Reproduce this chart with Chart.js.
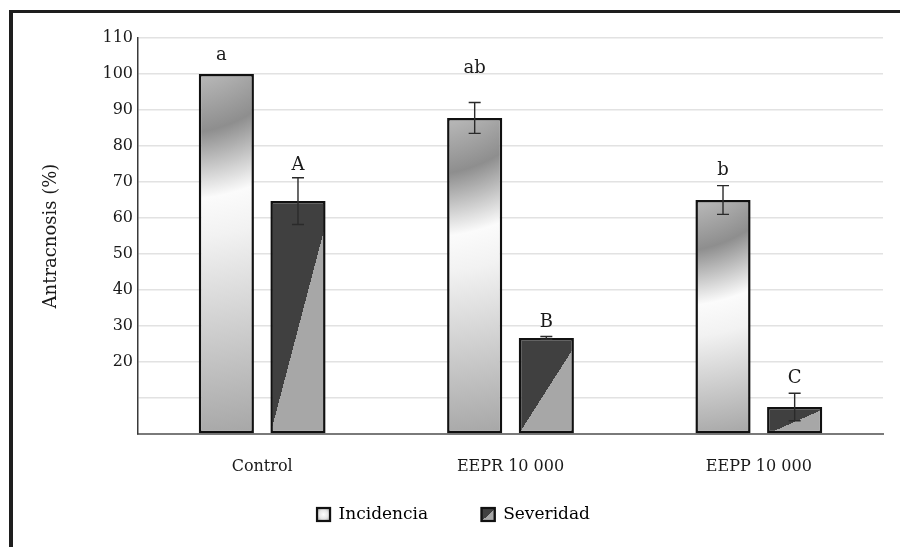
<!DOCTYPE html>
<html>
<head>
<meta charset="utf-8">
<script src="https://cdn.jsdelivr.net/npm/chart.js@4/dist/chart.umd.min.js"></script>
<style>
  html, body { margin: 0; padding: 0; background: #ffffff; }
  #wrap { position: relative; width: 900px; height: 547px; overflow: hidden; background: #fff; }
  #frame { position: absolute; left: 9px; top: 10px; width: 1000px; height: 1000px;
           border-top: 3px solid #1e1e1e; border-left: 4px solid #1e1e1e; pointer-events: none; }
  canvas { position: absolute; left: 0; top: 0; }
</style>
</head>
<body>
<div id="wrap">
  <canvas id="c" width="900" height="547"></canvas>
  <div id="frame"></div>
</div>
<script>
// ---- data ----
const categories = ['Control', 'EEPR 10 000', 'EEPP 10 000'];
const seriesNames = ['Incidencia', 'Severidad'];
const incidencia = [100, 87.8, 65];
const severidad = [64.7, 26.7, 7.5];
const incidenciaErr = [0, 4.3, 4.0];
const severidadErr = [6.5, 0.4, 3.8];
const incidenciaLetters = ['a', 'ab', 'b'];
const severidadLetters = ['A', 'B', 'C'];
const incidenciaLetterY = [105.3, 101.7, 73.3];
const severidadLetterY = [74.7, 31.1, 15.6];
const yTickValues = [20, 30, 40, 50, 60, 70, 80, 90, 100, 110];

const CAT_PCT = 0.577;
const BAR_PCT = 0.77;
const FONT = "'DejaVu Serif', 'Liberation Serif', serif";

function barGeom(ctx) {
  const chart = ctx.chart;
  const xs = chart.scales.x, ys = chart.scales.y;
  const i = ctx.dataIndex, di = ctx.datasetIndex;
  const catW = xs.width / categories.length;
  const slot = catW * CAT_PCT / 2;
  const bw = slot * BAR_PCT;
  const cx = xs.getPixelForValue(i) + (di === 0 ? -slot / 2 : slot / 2);
  const v = ctx.parsed ? ctx.parsed.y : ctx.raw;
  const top = ys.getPixelForValue(v), base = ys.getPixelForValue(0);
  return { cx, top, base, bw, left: cx - bw / 2, right: cx + bw / 2, h: base - top };
}

function incidGradient(c, cx, top, h) {
  const ox = cx - 50, oy = top - 86;
  const g1 = 0.5 + 0.5 * (h / 360);
  const Rend = Math.hypot(50, 86 + h) + 4;
  const g = c.createRadialGradient(ox, oy, 0, ox, oy, Rend);
  const st = (r, col) => g.addColorStop(Math.min(Math.max(r / Rend, 0), 1), col);
  st(0, '#c4c4c4');
  st(96, '#b4b4b4');
  st(100 + 46 * g1, '#8e8e8e');
  st(100 + 112 * g1, '#fbfbfb');
  st(100 + 150 * g1, '#f2f2f2');
  st(Rend, '#a6a6a6');
  return g;
}

function sevGradient(c, left, right, top, base, h) {
  const tY = top + 0.1 * h;
  const mx = (left + right) / 2, my = (base + tY) / 2;
  let nx = base - tY, ny = right - left;
  const len = Math.hypot(nx, ny) || 1;
  nx /= len; ny /= len;
  const k = 40;
  const g = c.createLinearGradient(mx - nx * k, my - ny * k, mx + nx * k, my + ny * k);
  g.addColorStop(0, '#404040');
  g.addColorStop(0.5, '#404040');
  g.addColorStop(0.5, '#a7a7a7');
  g.addColorStop(1, '#a7a7a7');
  return g;
}

function incidFill(ctx) {
  if (ctx.type !== 'data' || !ctx.chart.chartArea) return '#dcdcdc';
  const g = barGeom(ctx);
  return incidGradient(ctx.chart.ctx, g.cx, g.top, g.h);
}
function sevFill(ctx) {
  if (ctx.type !== 'data' || !ctx.chart.chartArea) return '#444444';
  const g = barGeom(ctx);
  return sevGradient(ctx.chart.ctx, g.left, g.right, g.top, g.base, g.h);
}

const errors = [incidenciaErr, severidadErr];
const letters = [incidenciaLetters, severidadLetters];
const letterY = [incidenciaLetterY, severidadLetterY];

const annotPlugin = {
  id: 'annot',
  afterDatasetsDraw(chart) {
    const c = chart.ctx, ys = chart.scales.y;
    c.save();
    chart.data.datasets.forEach((ds, di) => {
      const meta = chart.getDatasetMeta(di);
      meta.data.forEach((el, i) => {
        const v = ds.data[i], e = errors[di][i];
        if (e > 0) {
          const yt = ys.getPixelForValue(v + e), yb = ys.getPixelForValue(v - e);
          c.strokeStyle = '#2a2a2a';
          c.lineWidth = 1.4;
          c.beginPath();
          c.moveTo(el.x, yt); c.lineTo(el.x, yb);
          c.moveTo(el.x - 6, yt); c.lineTo(el.x + 6, yt);
          c.moveTo(el.x - 6, yb); c.lineTo(el.x + 6, yb);
          c.stroke();
        }
        c.fillStyle = '#1a1a1a';
        c.font = '18px ' + FONT;
        c.textAlign = 'center';
        c.textBaseline = 'middle';
        c.fillText(letters[di][i], el.x - (di === 0 && i === 0 ? 5 : 0), ys.getPixelForValue(letterY[di][i]));
      });
    });
    c.restore();
  },
  afterDraw(chart) {
    const lg = chart.legend;
    if (!lg || !lg.legendHitBoxes) return;
    const c = chart.ctx;
    const bw = 13, bh = 13, fs = 17;
    lg.legendHitBoxes.forEach((hb, i) => {
      const item = lg.legendItems[i];
      if (!item || !item.text) return;
      const x = hb.left, y = hb.top + Math.max((fs - bh) / 2, 0);
      c.save();
      if (item.datasetIndex === 0) {
        const g = c.createRadialGradient(x + bw / 2, y + bh / 2, 0, x + bw / 2, y + bh / 2, bw * 0.7);
        g.addColorStop(0, '#ffffff');
        g.addColorStop(0.5, '#e6e6e6');
        g.addColorStop(1, '#9a9a9a');
        c.fillStyle = g;
      } else {
        c.fillStyle = sevGradient(c, x, x + bw, y, y + bh, bh);
      }
      c.fillRect(x, y, bw, bh);
      c.strokeStyle = '#111';
      c.lineWidth = 2.2;
      c.strokeRect(x, y, bw, bh);
      c.restore();
    });
  }
};

new Chart(document.getElementById('c'), {
  type: 'bar',
  data: {
    labels: categories,
    datasets: [
      { label: seriesNames[0], data: incidencia, backgroundColor: incidFill,
        borderColor: '#111111', borderWidth: 2.5, borderSkipped: false,
        categoryPercentage: CAT_PCT, barPercentage: BAR_PCT },
      { label: seriesNames[1], data: severidad, backgroundColor: sevFill,
        borderColor: '#111111', borderWidth: 2.5, borderSkipped: false,
        categoryPercentage: CAT_PCT, barPercentage: BAR_PCT }
    ]
  },
  options: {
    responsive: false,
    animation: false,
    events: [],
    layout: { padding: { left: 24, right: 17, top: 38, bottom: 14 } },
    plugins: {
      tooltip: { enabled: false },
      legend: {
        position: 'bottom',
        labels: {
          boxWidth: 13, boxHeight: 13, padding: 16,
          color: '#1a1a1a',
          font: { family: FONT, size: 17 },
          generateLabels: (chart) => {
            const ds = chart.data.datasets;
            return [
              { text: ds[0].label, datasetIndex: 0, fillStyle: '#e0e0e0', strokeStyle: '#111111', lineWidth: 2, hidden: false },
              { text: '', fillStyle: 'rgba(0,0,0,0)', strokeStyle: 'rgba(0,0,0,0)', lineWidth: 0, hidden: false },
              { text: ds[1].label, datasetIndex: 1, fillStyle: '#555555', strokeStyle: '#111111', lineWidth: 2, hidden: false }
            ];
          }
        }
      }
    },
    scales: {
      x: {
        grid: { display: false },
        border: { display: true, color: '#7a7a7a', width: 2 },
        ticks: { color: '#1a1a1a', font: { family: FONT, size: 16 }, padding: 15, maxRotation: 0 },
        afterFit(s) { s.height = 56; }
      },
      y: {
        min: 0, max: 110,
        grid: { color: '#e2e2e2', lineWidth: 1.6, drawTicks: false },
        border: { display: true, color: '#3a3a3a', width: 1.5 },
        afterBuildTicks(s) { s.ticks = [0, 10].concat(yTickValues).map(v => ({ value: v })); },
        ticks: {
          color: '#1a1a1a', font: { family: FONT, size: 16 }, padding: 5,
          callback: (v) => (yTickValues.includes(v) ? String(v) : '')
        },
        title: { display: true, text: 'Antracnosis (%)', color: '#1a1a1a',
                 font: { family: FONT, size: 18 }, padding: { top: 17, bottom: 0 } },
        afterFit(s) { s.width = 114; }
      }
    }
  },
  plugins: [annotPlugin]
});
</script>
</body>
</html>
